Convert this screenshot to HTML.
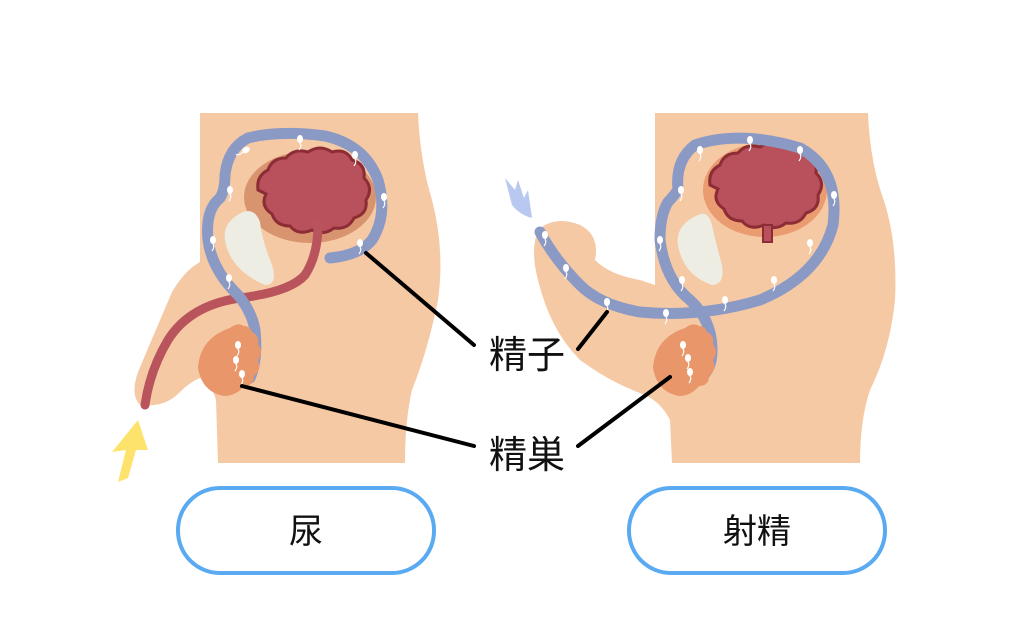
<!DOCTYPE html>
<html><head><meta charset="utf-8"><style>
html,body{margin:0;padding:0;background:#fff;width:1024px;height:630px;overflow:hidden}
svg{display:block}
text{font-family:"Liberation Sans","Noto Sans CJK JP",sans-serif}
</style></head><body>
<svg width="1024" height="630" viewBox="0 0 1024 630">
<defs>
<g id="sp"><ellipse cx="0" cy="0" rx="3" ry="4" fill="#fff"/><path d="M0 4 q2 3 -1 7" stroke="#fff" stroke-width="1.2" fill="none"/></g>
</defs>
<!-- LEFT FIGURE -->
<path d="M200 113 L418 113 Q420 160 432 200 Q445 250 438 300 Q428 350 412 390 Q405 420 405 463 L218 463 L216 400 Q210 380 200 378 Q190 382 180 392 Q165 408 140 405 Q130 395 138 372 Q160 320 172 292 Q185 270 200 262 Z" fill="#f6c9a5"/>
<ellipse cx="310" cy="197" rx="66" ry="46" fill="#d8946f"/>
<path d="M258 190 q-2 -14 10 -20 q4 -12 18 -12 q8 -10 22 -6 q12 -8 24 0 q14 -4 20 8 q14 4 12 18 q10 10 2 22 q2 14 -12 18 q-6 12 -20 10 q-10 8 -22 2 q-14 6 -22 -4 q-14 0 -18 -12 q-12 -8 -6 -20 z" fill="#b8515b" stroke="#8c2c35" stroke-width="3"/>
<path d="M243 212 Q222 222 225 240 Q230 270 265 285 Q278 285 272 265 Q262 240 260 222 Q255 208 243 212 Z" fill="#eeede3"/>
<path d="M318 225 Q318 255 305 275 Q290 292 240 298 Q190 305 168 340 Q150 370 145 405" stroke="#b9545d" stroke-width="9" fill="none" stroke-linecap="round"/>
<path d="M330 258 Q360 255 372 240 Q388 215 378 180 Q365 145 325 136 Q280 130 248 138 Q228 148 225 175 Q225 190 220 198 Q205 210 208 240 Q212 270 238 295 Q252 312 255 330 Q258 360 250 378" stroke="#8b9ac5" stroke-width="11" fill="none" stroke-linecap="round"/>
<path d="M230 328 q8 -6 14 -2 q6 0 8 6 q8 4 6 12 q6 8 0 16 q4 10 -4 16 q0 10 -10 10 q-8 10 -20 10 q-22 -4 -26 -28 q2 -30 32 -40z" fill="#e8966a"/>
<use href="#sp" x="238" y="345"/><use href="#sp" x="236" y="360"/><use href="#sp" x="242" y="374"/>
<use href="#sp" x="246" y="150" transform="rotate(60 246 150)"/><use href="#sp" x="300" y="139"/><use href="#sp" x="355" y="155"/><use href="#sp" x="384" y="197"/><use href="#sp" x="360" y="243"/><use href="#sp" x="230" y="190"/><use href="#sp" x="213" y="240"/><use href="#sp" x="229" y="278"/>
<path d="M118 482 L126 450 L112 452 L138 420 L148 450 L136 450 L128 478 Z" fill="#fde36b"/>
<!-- RIGHT FIGURE -->
<path d="M655 113 L868 113 Q870 160 882 195 Q898 240 895 300 Q890 350 870 390 Q860 420 860 463 L672 463 L670 420 Q660 400 640 393 Q610 382 580 360 Q550 330 538 280 Q530 250 538 230 Q555 215 580 225 Q600 235 595 260 Q610 275 640 280 L655 285 Z" fill="#f6c9a5"/>
<ellipse cx="765" cy="190" rx="62" ry="47" fill="#ea9b70"/>
<path d="M710 185 q-2 -14 10 -20 q4 -12 18 -12 q8 -10 22 -6 q12 -8 24 0 q14 -4 20 8 q14 4 12 18 q10 10 2 22 q2 14 -12 18 q-6 12 -20 10 q-10 8 -22 2 q-14 6 -22 -4 q-14 0 -18 -12 q-12 -8 -6 -20 z" fill="#b8515b" stroke="#8c2c35" stroke-width="3"/>
<rect x="763" y="225" width="9" height="17" fill="#b8515b" stroke="#8c2c35" stroke-width="2"/>
<path d="M698 215 Q675 225 678 245 Q683 275 712 285 Q725 285 722 265 Q715 240 712 225 Q708 210 698 215 Z" fill="#eeede3"/>
<path d="M540 232 Q555 260 580 285 Q600 305 640 312 Q700 318 760 300 Q820 275 833 225 Q840 170 800 148 Q740 130 695 145 Q675 160 678 190 Q672 198 668 202 Q660 215 660 240 Q665 280 690 300 Q712 320 712 350 Q712 370 700 378" stroke="#8b9ac5" stroke-width="11" fill="none" stroke-linecap="round"/>
<path d="M685 328 q8 -6 14 -2 q6 0 8 6 q8 4 6 12 q6 8 0 16 q4 10 -4 16 q0 10 -10 10 q-8 10 -20 10 q-22 -4 -26 -28 q2 -30 32 -40z" fill="#e8966a"/>
<use href="#sp" x="683" y="345"/><use href="#sp" x="688" y="358"/><use href="#sp" x="690" y="372"/>
<use href="#sp" x="545" y="235"/><use href="#sp" x="566" y="268"/><use href="#sp" x="607" y="302"/><use href="#sp" x="666" y="313"/><use href="#sp" x="725" y="300"/><use href="#sp" x="774" y="280"/><use href="#sp" x="810" y="243"/><use href="#sp" x="834" y="195"/><use href="#sp" x="800" y="150"/><use href="#sp" x="750" y="140"/><use href="#sp" x="700" y="150"/><use href="#sp" x="681" y="190"/><use href="#sp" x="660" y="240"/><use href="#sp" x="682" y="280"/>
<path d="M532 218 Q520 215 512 205 L505 178 L515 190 L518 180 L524 198 L528 190 Z" fill="#b8c8f0"/>
<!-- leader lines -->
<g stroke="#000" stroke-width="4" stroke-linecap="round">
<line x1="366" y1="253" x2="474" y2="345"/>
<line x1="242" y1="386" x2="474" y2="446"/>
<line x1="607" y1="312" x2="578" y2="349"/>
<line x1="670" y1="377" x2="578" y2="446"/>
</g>
<text x="489" y="368" font-size="38" fill="#111">精子</text>
<text x="489" y="468" font-size="38" fill="#111">精巣</text>
<!-- buttons -->
<rect x="178" y="488" width="256" height="85" rx="42" fill="#fff" stroke="#5aaaf2" stroke-width="4"/>
<text x="306" y="543" font-size="34" text-anchor="middle" fill="#111">尿</text>
<rect x="629" y="488" width="256" height="85" rx="42" fill="#fff" stroke="#5aaaf2" stroke-width="4"/>
<text x="757" y="543" font-size="34" text-anchor="middle" fill="#111">射精</text>
</svg>
</body></html>
